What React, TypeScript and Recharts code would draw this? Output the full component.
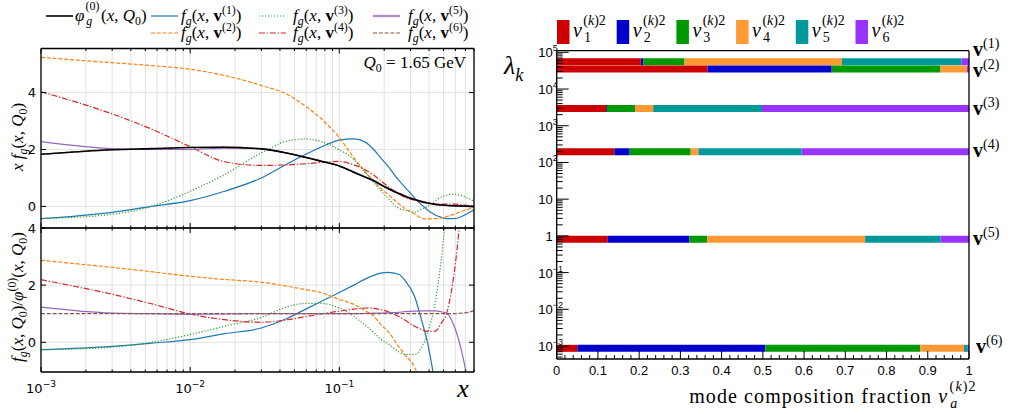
import React from 'react';
import { LineChart, Line, XAxis, YAxis, CartesianGrid } from 'recharts';

// x grid (log spaced) where the gluon curves are sampled
const X_POINTS = [0.001, 0.003, 0.0055, 0.01, 0.017, 0.03, 0.045, 0.06, 0.075, 0.1, 0.125, 0.15, 0.17, 0.19, 0.21, 0.25, 0.275, 0.32, 0.355, 0.39, 0.44, 0.48, 0.53, 0.59, 0.66, 0.73, 0.8];

// x f_g(x, Q0): central PDF and the six eigenvector PDFs
const XF_PHI0 = [1.83, 1.99, 2.03, 2.07, 2.08, 2.02, 1.87, 1.72, 1.59, 1.42, 1.2, 1.02, 0.9, 0.76, 0.64, 0.45, 0.36, 0.24, 0.17, 0.12, 0.07, 0.05, 0.03, 0.02, 0.01, 0.005, 0];
const XF_V1 = [-0.43, -0.21, 0.0, 0.2, 0.53, 1.0, 1.5, 1.84, 2.08, 2.33, 2.37, 2.25, 2.0, 1.7, 1.44, 0.92, 0.68, 0.3, 0.06, -0.13, -0.3, -0.38, -0.43, -0.43, -0.36, -0.24, -0.12];
const XF_V2 = [5.24, 5.05, 4.95, 4.82, 4.6, 4.25, 3.93, 3.5, 3.1, 2.42, 1.71, 1.2, 0.9, 0.63, 0.44, 0.1, -0.07, -0.27, -0.41, -0.44, -0.43, -0.41, -0.35, -0.27, -0.18, -0.1, -0.04];
const XF_V3 = [-0.43, -0.28, 0.0, 0.53, 1.12, 1.88, 2.3, 2.37, 2.28, 1.99, 1.65, 1.17, 0.85, 0.55, 0.31, -0.07, -0.13, -0.2, -0.1, 0.0, 0.2, 0.32, 0.4, 0.43, 0.38, 0.29, 0.18];
const XF_V4 = [4.03, 3.25, 2.72, 2.1, 1.57, 1.44, 1.46, 1.5, 1.54, 1.58, 1.46, 1.28, 1.1, 0.9, 0.72, 0.45, 0.32, 0.22, 0.15, 0.11, 0.08, 0.08, 0.08, 0.08, 0.06, 0.03, 0.01];
const XF_V5 = [2.28, 2.03, 2.0, 2.0, 2.05, 2.02, 1.87, 1.72, 1.6, 1.42, 1.21, 1.04, 0.92, 0.78, 0.66, 0.47, 0.38, 0.26, 0.19, 0.13, 0.08, 0.05, 0.03, 0.01, 0.0, -0.01, -0.02];
const XF_V6 = [1.83, 1.99, 2.03, 2.07, 2.08, 2.02, 1.87, 1.72, 1.59, 1.42, 1.2, 1.02, 0.9, 0.76, 0.64, 0.45, 0.36, 0.24, 0.17, 0.12, 0.07, 0.05, 0.03, 0.02, 0.01, 0.005, 0];

// ratios f_g(x, v^(k)) / phi_g^(0)
const R_V1 = [-0.26, -0.14, -0.03, 0.09, 0.3, 0.5, 0.84, 1.17, 1.42, 1.74, 2.0, 2.22, 2.34, 2.42, 2.45, 2.38, 2.17, 1.6, 0.8, 0.0, -1.5, null, null, null, null, null, null];
const R_V2 = [2.87, 2.62, 2.47, 2.31, 2.2, 2.1, 1.96, 1.84, 1.74, 1.5, 1.33, 1.1, 0.92, 0.62, 0.41, -0.15, -0.43, -0.88, -1.5, null, null, null, null, null, null, null, null];
const R_V3 = [-0.26, -0.17, 0.0, 0.27, 0.56, 0.87, 1.25, 1.36, 1.36, 1.2, 0.91, 0.58, 0.35, 0.1, -0.03, -0.33, -0.42, -0.42, -0.2, 0.33, 1.4, 2.8, 5.0, null, null, null, null];
const R_V4 = [2.19, 1.68, 1.35, 0.99, 0.79, 0.7, 0.79, 0.9, 0.99, 1.09, 1.16, 1.2, 1.19, 1.14, 1.08, 0.9, 0.78, 0.56, 0.45, 0.38, 0.39, 0.65, 1.1, 2.45, 4.8, null, null];
const R_V5 = [1.23, 1.02, 1.0, 0.98, 0.99, 1.0, 1.0, 1.0, 1.0, 1.0, 1.0, 1.01, 1.02, 1.02, 1.03, 1.05, 1.07, 1.09, 1.1, 1.1, 1.1, 1.07, 1.0, 0.55, -0.3, -1.4, null];
const R_V6 = [1.0, 1.0, 1.0, 1.0, 1.0, 1.0, 1.0, 1.0, 1.0, 1.0, 1.0, 1.0, 1.0, 1.0, 1.0, 1.0, 1.0, 1.0, 1.0, 1.0, 1.0, 1.0, 1.0, 1.0, 1.02, 1.05, 1.1];

// Hessian eigenvalues lambda_k and squared components v_a^(k)2 (a = 1..6)
const LAMBDA = [5.55e4, 3.51e4, 2965, 195, 0.81, 8.65e-4];
const COMP_V1 = [0.204, 0.006, 0.1, 0.382, 0.29, 0.018];
const COMP_V2 = [0.366, 0.301, 0.264, 0.064, 0.0, 0.005];
const COMP_V3 = [0.12, 0.002, 0.068, 0.044, 0.264, 0.502];
const COMP_V4 = [0.14, 0.037, 0.148, 0.019, 0.25, 0.406];
const COMP_V5 = [0.124, 0.198, 0.043, 0.383, 0.183, 0.069];
const COMP_V6 = [0.05, 0.456, 0.376, 0.106, 0.009, 0.003];

const SERIF = '"Liberation Serif", "DejaVu Serif", serif';
const SANS = '"DejaVu Sans", sans-serif';
const HELV = '"Liberation Sans", Arial, sans-serif';

const CURVES = [
  { key: 'v1', color: '#1f77b4', dash: undefined as string | undefined },
  { key: 'v2', color: '#ff7f0e', dash: '4 1.8' },
  { key: 'v3', color: '#2ca02c', dash: '1.2 1.8' },
  { key: 'v4', color: '#d62728', dash: '6 1.8 1.3 1.8' },
  { key: 'v5', color: '#9467bd', dash: undefined },
  { key: 'v6', color: '#8c564b', dash: '4 1.8' },
];
const MODE_COLORS = ['#cc0000', '#0000cc', '#009900', '#ff9933', '#009999', '#9933ff'];

const topData = X_POINTS.map((x, i) => ({
  x, phi: XF_PHI0[i], v1: XF_V1[i], v2: XF_V2[i], v3: XF_V3[i], v4: XF_V4[i], v5: XF_V5[i], v6: XF_V6[i],
}));
const ratioData = X_POINTS.map((x, i) => ({
  x, v1: R_V1[i], v2: R_V2[i], v3: R_V3[i], v4: R_V4[i], v5: R_V5[i], v6: R_V6[i],
}));

const COMPS = [COMP_V1, COMP_V2, COMP_V3, COMP_V4, COMP_V5, COMP_V6];
const segments = COMPS.flatMap((comp, k) => {
  let start = 0;
  return comp.map((frac, a) => {
    const seg = {
      id: `m${k}a${a}`,
      color: MODE_COLORS[a],
      data: [{ f: start, lam: LAMBDA[k] }, { f: start + frac, lam: LAMBDA[k] }],
    };
    start += frac;
    return seg;
  });
});

// log ticks: decades plus 2..9 minors
const logTicks = (lo: number, hi: number) => {
  const out: number[] = [];
  for (let d = Math.floor(Math.log10(lo)); d <= Math.ceil(Math.log10(hi)); d++) {
    for (let m = 1; m <= 9; m++) {
      const t = m * Math.pow(10, d);
      if (t >= lo * 0.999 && t <= hi * 1.001) out.push(t);
    }
  }
  return out;
};
const isDecade = (v: number) => Math.abs(Math.log10(v) - Math.round(Math.log10(v))) < 1e-6;
const LEFT_X_TICKS = logTicks(0.001, 0.8);
const LAMBDA_DOMAIN = [4.43e-4, 1.107e5];
const LAMBDA_TICKS = logTicks(LAMBDA_DOMAIN[0], LAMBDA_DOMAIN[1]);
const FRAC_TICKS = Array.from({ length: 51 }, (_, i) => +(i * 0.02).toFixed(2));
const isTenth = (v: number) => Math.abs(v * 10 - Math.round(v * 10)) < 1e-6;

type Dir = 'up' | 'down' | 'left' | 'right';
const makeTick = (
  dir: Dir,
  isMajor: (v: number) => boolean,
  majorLen: number,
  minorLen: number,
  label?: (v: number, x: number, y: number) => React.ReactNode,
) => (props: any) => {
  const { x, y, payload } = props;
  const v = payload.value;
  const major = isMajor(v);
  const len = major ? majorLen : minorLen;
  const x2 = dir === 'left' ? x - len : dir === 'right' ? x + len : x;
  const y2 = dir === 'up' ? y - len : dir === 'down' ? y + len : y;
  return (
    <g>
      <line x1={x} y1={y} x2={x2} y2={y2} stroke="#000" strokeWidth={1} />
      {label && major ? label(v, x, y) : null}
    </g>
  );
};

const expLabel = (e: number) => String(e).replace('-', '\u2212');

const leftXLabel = (v: number, x: number, y: number) => (
  <text x={x} y={y + 21} textAnchor="middle" fontFamily={SANS} fontSize={13} fill="#000">
    10<tspan dy={-6} fontSize={9}>{expLabel(Math.round(Math.log10(v)))}</tspan>
  </text>
);
const leftYLabel = (v: number, x: number, y: number) => (
  <text x={x - 5} y={y + 4.5} textAnchor="end" fontFamily={SANS} fontSize={13} fill="#000">{v}</text>
);
const lambdaLabel = (v: number, x: number, y: number) => {
  const e = Math.round(Math.log10(v));
  const main = e === 0 ? '1' : '10';
  return (
    <g>
      <text x={x - 4} y={y + 5} textAnchor="end" fontFamily={HELV} fontSize={13} fill="#000">{main}</text>
      {e !== 0 && e !== 1 ? (
        <text x={x - 4} y={y - 1} fontFamily={HELV} fontSize={9} fill="#000">{expLabel(e)}</text>
      ) : null}
    </g>
  );
};
const fracLabel = (v: number, x: number, y: number) => (
  <text x={x} y={y + 16} textAnchor="middle" fontFamily={HELV} fontSize={13} fill="#000">
    {v === 0 ? '0' : v === 1 ? '1' : v.toFixed(1)}
  </text>
);

const AXIS_LINE = { stroke: '#000', strokeWidth: 1.3 };
const always = () => true;

// every axis is mirrored so it sits on the plot edge without taking room from the margins
const logXAxis = (id: string | number, orientation: 'top' | 'bottom', dir: Dir, withLabels: boolean) => (
  <XAxis
    xAxisId={id}
    orientation={orientation}
    mirror
    dataKey="x"
    type="number"
    scale="log"
    domain={[0.001, 0.8]}
    allowDataOverflow
    ticks={LEFT_X_TICKS}
    interval={0}
    tickSize={0}
    tickMargin={0}
    tickLine={false}
    axisLine={AXIS_LINE}
    tick={makeTick(dir, isDecade, 5, 2.5, withLabels ? leftXLabel : undefined)}
  />
);

const linYAxes = (domain: number[], labels: boolean) => [
  <YAxis
    key="l"
    mirror
    type="number"
    domain={domain}
    allowDataOverflow
    ticks={[0, 2, 4]}
    interval={0}
    tickSize={0}
    tickMargin={0}
    tickLine={false}
    axisLine={AXIS_LINE}
    tick={makeTick('right', always, 5, 5, labels ? leftYLabel : undefined)}
  />,
  <YAxis
    key="r"
    yAxisId="r"
    orientation="right"
    mirror
    type="number"
    domain={domain}
    allowDataOverflow
    ticks={[0, 2, 4]}
    interval={0}
    tickSize={0}
    tickMargin={0}
    tickLine={false}
    axisLine={AXIS_LINE}
    tick={makeTick('left', always, 5, 5)}
  />,
];

function TopPanel() {
  return (
    <LineChart width={480} height={232} data={topData} margin={{ top: 48.5, right: 6, bottom: 4, left: 41 }}>
      <CartesianGrid stroke="#e2e2e2" strokeWidth={1} />
      {CURVES.map((c) => (
        <Line key={c.key} dataKey={c.key} type="monotone" stroke={c.color} strokeWidth={1.2}
          strokeDasharray={c.dash} dot={false} isAnimationActive={false} />
      ))}
      <Line dataKey="phi" type="monotone" stroke="#000" strokeWidth={1.6} dot={false} isAnimationActive={false} />
      {logXAxis(0, 'bottom', 'up', false)}
      {logXAxis('t', 'top', 'down', false)}
      {linYAxes([-0.76, 5.55], true)}
    </LineChart>
  );
}

function RatioPanel() {
  return (
    <LineChart width={480} height={414} data={ratioData} margin={{ top: 228, right: 6, bottom: 42, left: 41 }}>
      <CartesianGrid stroke="#e2e2e2" strokeWidth={1} />
      {CURVES.map((c) => (
        <Line key={c.key} dataKey={c.key} type="monotone" stroke={c.color} strokeWidth={1.2}
          strokeDasharray={c.dash} dot={false} isAnimationActive={false} />
      ))}
      {logXAxis(0, 'bottom', 'up', true)}
      {logXAxis('t', 'top', 'down', false)}
      {linYAxes([-1.04, 4], true)}
    </LineChart>
  );
}

function ModePanel() {
  return (
    <LineChart width={1022} height={414} margin={{ top: 50.7, right: 53, bottom: 55, left: 556.7 }}>
      {segments.map((s) => (
        <Line key={s.id} data={s.data} dataKey="lam" type="linear" stroke={s.color} strokeWidth={7}
          dot={false} isAnimationActive={false} />
      ))}
      <XAxis dataKey="f" type="number" mirror domain={[0, 1]} ticks={FRAC_TICKS} interval={0}
        tickSize={0} tickMargin={0} tickLine={false} axisLine={AXIS_LINE}
        tick={makeTick('up', isTenth, 8, 4, fracLabel)} />
      <XAxis xAxisId="t" orientation="top" mirror dataKey="f" type="number" domain={[0, 1]}
        tick={false} tickLine={false} axisLine={AXIS_LINE} />
      <YAxis type="number" mirror scale="log" domain={LAMBDA_DOMAIN} allowDataOverflow ticks={LAMBDA_TICKS}
        interval={0} tickSize={0} tickMargin={0} tickLine={false} axisLine={AXIS_LINE}
        tick={makeTick('right', isDecade, 12, 6, lambdaLabel)} />
      <YAxis yAxisId="r" orientation="right" mirror type="number" scale="log" domain={LAMBDA_DOMAIN}
        tick={false} tickLine={false} axisLine={AXIS_LINE} />
    </LineChart>
  );
}

// ---- math-ish text helpers (HTML overlay) ----
const Sup = ({ children }: { children: React.ReactNode }) => (
  <span style={{ fontSize: '0.7em', position: 'relative', top: '-0.6em' }}>{children}</span>
);
const Sub = ({ children }: { children: React.ReactNode }) => (
  <span style={{ fontSize: '0.7em', position: 'relative', top: '0.35em' }}>{children}</span>
);
const SupSub = ({ hi, lo, w }: { hi: React.ReactNode; lo: React.ReactNode; w: number }) => (
  <span style={{ fontSize: '0.7em', position: 'relative', display: 'inline-block', width: `${w}em`, height: 0, marginLeft: '0.1em' }}>
    <span style={{ position: 'absolute', left: 0, top: '-1.62em', lineHeight: 0.9 }}>{hi}</span>
    <span style={{ position: 'absolute', left: '0.05em', top: '-0.4em', lineHeight: 0.9 }}>{lo}</span>
  </span>
);
const I = ({ children }: { children: React.ReactNode }) => <i>{children}</i>;

const Txt = ({ x, base, size, anchor = 'start', children, family = SERIF, spacing }: {
  x: number; base: number; size: number; anchor?: 'start' | 'end' | 'middle'; children: React.ReactNode;
  family?: string; spacing?: number;
}) => (
  <div style={{
    position: 'absolute', left: x, top: base - 0.84 * size, fontFamily: family, fontSize: size, lineHeight: 1,
    whiteSpace: 'nowrap', color: '#000', letterSpacing: spacing,
    transform: anchor === 'end' ? 'translateX(-100%)' : anchor === 'middle' ? 'translateX(-50%)' : undefined,
  }}>{children}</div>
);
const Rot = ({ cx, cy, size, children }: { cx: number; cy: number; size: number; children: React.ReactNode }) => (
  <div style={{
    position: 'absolute', left: cx, top: cy, fontFamily: SERIF, fontSize: size, lineHeight: 1, whiteSpace: 'nowrap',
    transform: 'translate(-50%, -50%) rotate(-90deg)', color: '#000',
  }}>{children}</div>
);

const Fk = ({ k }: { k: number }) => (
  <>
    <I>f</I><Sub><I>g</I></Sub>(<I>x</I>, <b>v</b><Sup>({k})</Sup>)
  </>
);

const LEGEND_ROWS = [
  { y: 16, items: [{ x: 151, c: 0 }, { x: 259, c: 2 }, { x: 373, c: 4 }] },
  { y: 33, items: [{ x: 151, c: 1 }, { x: 259, c: 3 }, { x: 373, c: 5 }] },
];
const MODE_LABEL_BASE = [56, 77, 115, 157, 245, 353];

function Overlay() {
  return (
    <>
      <svg width={1022} height={414} style={{ position: 'absolute', left: 0, top: 0 }}>
        <line x1={46} x2={73} y1={16} y2={16} stroke="#000" strokeWidth={1.6} />
        {LEGEND_ROWS.map((row) => row.items.map((it) => {
          const c = CURVES[it.c];
          return (
            <line key={c.key} x1={it.x} x2={it.x + 27} y1={row.y} y2={row.y} stroke={c.color}
              strokeWidth={c.key === 'v5' ? 2.4 : 1.2} strokeOpacity={c.key === 'v5' ? 0.75 : 1}
              strokeDasharray={c.dash} />
          );
        }))}
        {MODE_COLORS.map((col, a) => (
          <rect key={col} x={557 + a * 59.7} y={20} width={12.5} height={24} fill={col} />
        ))}
      </svg>

      <Txt x={75} base={21} size={17}>
        <I>φ</I><SupSub hi="(0)" lo={<I>g</I>} w={1.3} />(<I>x</I>, <I>Q</I><Sub>0</Sub>)
      </Txt>
      <Txt x={181} base={21} size={17}><Fk k={1} /></Txt>
      <Txt x={293} base={21} size={17}><Fk k={3} /></Txt>
      <Txt x={408} base={21} size={17}><Fk k={5} /></Txt>
      <Txt x={181} base={38.5} size={17}><Fk k={2} /></Txt>
      <Txt x={293} base={38.5} size={17}><Fk k={4} /></Txt>
      <Txt x={408} base={38.5} size={17}><Fk k={6} /></Txt>

      <Txt x={466} base={68} size={17} anchor="end">
        <I>Q</I><Sub>0</Sub> = 1.65 GeV
      </Txt>

      <Rot cx={17} cy={137} size={17}>
        <I>x f</I><Sub><I>g</I></Sub>(<I>x</I>, <I>Q</I><Sub>0</Sub>)
      </Rot>
      <Rot cx={17} cy={297} size={17}>
        <I>f</I><Sub><I>g</I></Sub>(<I>x</I>, <I>Q</I><Sub>0</Sub>)/<I>φ</I><Sup>(0)</Sup>(<I>x</I>, <I>Q</I><Sub>0</Sub>)
      </Rot>
      <Txt x={463} base={398} size={26} anchor="middle"><I>x</I></Txt>

      <Txt x={504} base={75} size={26}><I>λ</I><Sub><I>k</I></Sub></Txt>

      {MODE_COLORS.map((col, a) => (
        <Txt key={col} x={573 + a * 59.7} base={37} size={20}>
          <I>v</I><SupSub hi={<>(<I>k</I>)2</>} lo={a + 1} w={1.6} />
        </Txt>
      ))}

      {LAMBDA.map((lam, k) => (
        <Txt key={lam} x={k === 5 ? 976 : 973} base={MODE_LABEL_BASE[k]} size={20}>
          <b>v</b><Sup>({k + 1})</Sup>
        </Txt>
      ))}

      <Txt x={972} base={403} size={20} anchor="end" spacing={1.1}>
        mode composition fraction <I>v</I><SupSub hi={<>(<I>k</I>)2</>} lo={<I>a</I>} w={1.6} />
      </Txt>
    </>
  );
}

export default function App() {
  return (
    <div style={{ position: 'absolute', left: 0, top: 0, width: 1022, height: 414, background: '#fff', overflow: 'hidden' }}>
      <div style={{ position: 'absolute', left: 0, top: 0 }}><TopPanel /></div>
      <div style={{ position: 'absolute', left: 0, top: 0 }}><RatioPanel /></div>
      <div style={{ position: 'absolute', left: 0, top: 0 }}><ModePanel /></div>
      <Overlay />
    </div>
  );
}
